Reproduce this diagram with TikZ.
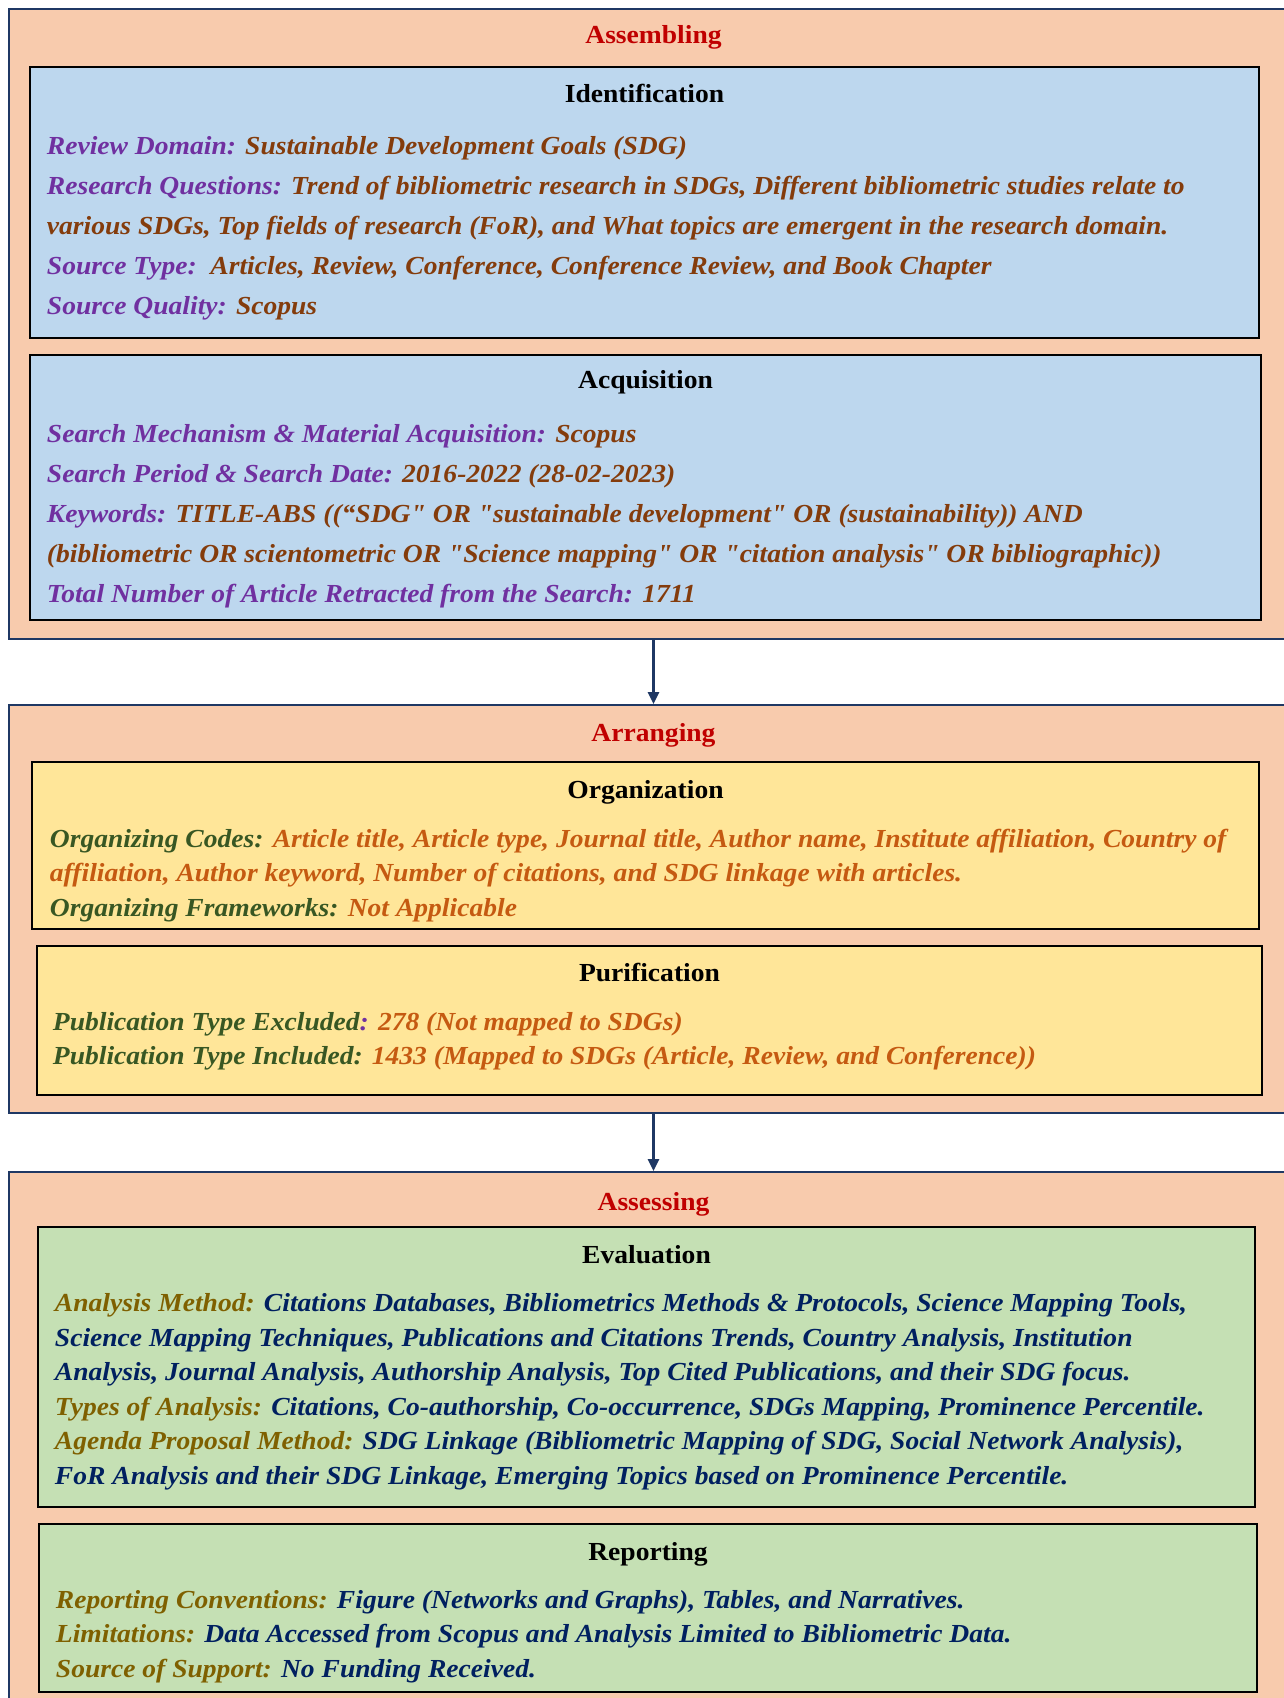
\documentclass[tikz,border=0pt]{standalone}
\usepackage{fontspec}
\setmainfont{Liberation Serif}[Ligatures=TeXOff,FakeStretch=1.06]
\usetikzlibrary{positioning,arrows.meta}

\definecolor{peach}{HTML}{F8CBAD}
\definecolor{paleblue}{HTML}{BDD7EE}
\definecolor{paleyellow}{HTML}{FFE699}
\definecolor{palegreen}{HTML}{C5E0B4}
\definecolor{navyline}{HTML}{1F3864}
\definecolor{titlered}{HTML}{C00000}
\definecolor{keypurple}{HTML}{7030A0}
\definecolor{valbrown}{HTML}{843C0C}
\definecolor{keygreen}{HTML}{385723}
\definecolor{valorange}{HTML}{C55A11}
\definecolor{keyolive}{HTML}{7F6000}
\definecolor{valnavy}{HTML}{002060}

\newcommand{\idkey}[1]{\textcolor{keypurple}{#1}}
\newcommand{\idval}[1]{\textcolor{valbrown}{#1}}
\newcommand{\orgkey}[1]{\textcolor{keygreen}{#1}}
\newcommand{\orgval}[1]{\textcolor{valorange}{#1}}
\newcommand{\evkey}[1]{\textcolor{keyolive}{#1}}
\newcommand{\evval}[1]{\textcolor{valnavy}{#1}}

\tikzset{
  phase/.style={draw=navyline,line width=2pt,fill=peach,inner sep=0pt},
  stagebox/.style={draw=black,line width=2.5pt,inner sep=0pt},
  phasetitle/.style={inner sep=0pt,text=titlered,font=\fontsize{26}{26}\selectfont\bfseries},
  stagetitle/.style={inner sep=0pt,font=\fontsize{26}{26}\selectfont\bfseries},
  body/.style={align=left,inner sep=0pt,font=\fontsize{26}{40}\selectfont\bfseries\itshape},
  bodytight/.style={body,font=\fontsize{26}{34.6}\selectfont\bfseries\itshape},
  flow/.style={draw=navyline,line width=2.5pt,-{Triangle[length=12pt,width=11pt]}}
}

\begin{document}
\begin{tikzpicture}[x=1pt,y=-1pt]
    \useasboundingbox (0,0) rectangle (1284,1698);

    % Assembling
    \node[phase,minimum width=1289pt,minimum height=630pt] (assem) at (653.5,324) {};
    \node[phasetitle,below=17pt of assem.north] (assemtitle) {Assembling};

    \node[stagebox,fill=paleblue,minimum width=1229pt,minimum height=271pt] (identbox) at (644.5,202.5) {};
    \node[stagetitle,below=18pt of identbox.north] (identtitle) {Identification};
    \node[body,below right=70.5pt and 18pt of identbox.north west] (identtext) {%
      \idkey{Review Domain:} \idval{Sustainable Development Goals (SDG)}\\
      \idkey{Research Questions:} \idval{Trend of bibliometric research in SDGs, Different bibliometric studies relate to}\\
      \idval{various SDGs, Top fields of research (FoR), and What topics are emergent in the research domain.}\\
      \idkey{Source Type:}\ \ \idval{Articles, Review, Conference, Conference Review, and Book Chapter}\\
      \idkey{Source Quality:} \idval{Scopus}};

    \node[stagebox,fill=paleblue,minimum width=1231pt,minimum height=265pt] (acqbox) at (645.5,487.5) {};
    \node[stagetitle,below=17pt of acqbox.north] (acqtitle) {Acquisition};
    \node[body,below right=70pt and 18pt of acqbox.north west] (acqtext) {%
      \idkey{Search Mechanism \& Material Acquisition:} \idval{Scopus}\\
      \idkey{Search Period \& Search Date:} \idval{2016-2022 (28-02-2023)}\\
      \idkey{Keywords:} \idval{TITLE-ABS ((“SDG" OR "sustainable development" OR (sustainability)) AND}\\
      \idval{(bibliometric OR scientometric OR "Science mapping" OR "citation analysis" OR bibliographic))}\\
      \idkey{Total Number of Article Retracted from the Search:} \idval{1711}};

    % Arranging
    \node[phase,minimum width=1289pt,minimum height=408pt] (arrange) at (653.5,909) {};
    \node[phasetitle,below=19pt of arrange.north] (arrangetitle) {Arranging};

    \node[stagebox,fill=paleyellow,minimum width=1227pt,minimum height=167pt] (orgbox) at (645.5,845.5) {};
    \node[stagetitle,below=19pt of orgbox.north] (orgtitle) {Organization};
    \node[bodytight,below right=68pt and 19pt of orgbox.north west] (orgtext) {%
      \orgkey{Organizing Codes:} \orgval{Article title, Article type, Journal title, Author name, Institute affiliation, Country of}\\
      \orgval{affiliation, Author keyword, Number of citations, and SDG linkage with articles.}\\
      \orgkey{Organizing Frameworks:} \orgval{Not Applicable}};

    \node[stagebox,fill=paleyellow,minimum width=1225pt,minimum height=149pt] (purbox) at (649.5,1020.5) {};
    \node[stagetitle,below=18pt of purbox.north] (purtitle) {Purification};
    \node[bodytight,below right=67pt and 17pt of purbox.north west] (purtext) {%
      \orgkey{Publication Type Excluded}\idkey{:} \orgval{278 (Not mapped to SDGs)}\\
      \orgkey{Publication Type Included:} \orgval{1433 (Mapped to SDGs (Article, Review, and Conference))}};

    % Assessing
    \node[phase,minimum width=1289pt,minimum height=548pt] (assess) at (653.5,1446) {};
    \node[phasetitle,below=21pt of assess.north] (assesstitle) {Assessing};

    \node[stagebox,fill=palegreen,minimum width=1217pt,minimum height=280pt] (evalbox) at (646.5,1367) {};
    \node[stagetitle,below=19pt of evalbox.north] (evaltitle) {Evaluation};
    \node[bodytight,below right=67.5pt and 18pt of evalbox.north west] (evaltext) {%
      \evkey{Analysis Method:} \evval{Citations Databases, Bibliometrics Methods \& Protocols, Science Mapping Tools,}\\
      \evval{Science Mapping Techniques, Publications and Citations Trends, Country Analysis, Institution}\\
      \evval{Analysis, Journal Analysis, Authorship Analysis, Top Cited Publications, and their SDG focus.}\\
      \evkey{Types of Analysis:} \evval{Citations, Co-authorship, Co-occurrence, SDGs Mapping, Prominence Percentile.}\\
      \evkey{Agenda Proposal Method:} \evval{SDG Linkage (Bibliometric Mapping of SDG, Social Network Analysis),}\\
      \evval{FoR Analysis and their SDG Linkage, Emerging Topics based on Prominence Percentile.}};

    \node[stagebox,fill=palegreen,minimum width=1218pt,minimum height=168pt] (repbox) at (648,1608) {};
    \node[stagetitle,below=19pt of repbox.north] (reptitle) {Reporting};
    \node[bodytight,below right=67pt and 18pt of repbox.north west] (reptext) {%
      \evkey{Reporting Conventions:} \evval{Figure (Networks and Graphs), Tables, and Narratives.}\\
      \evkey{Limitations:} \evval{Data Accessed from Scopus and Analysis Limited to Bibliometric Data.}\\
      \evkey{Source of Support:} \evval{No Funding Received.}};

    % flow between phases
    \draw[flow] (assem.south) -- (arrange.north);
    \draw[flow] (arrange.south) -- (assess.north);
\end{tikzpicture}
\end{document}
